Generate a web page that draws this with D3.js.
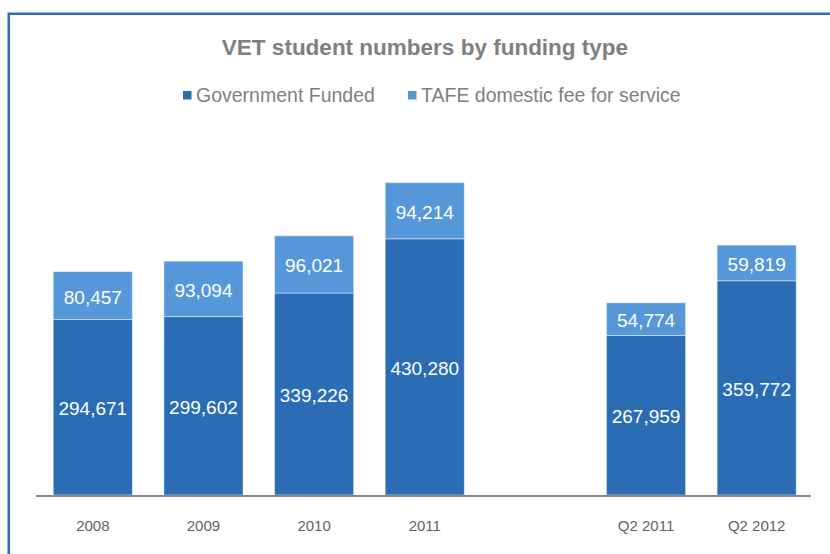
<!DOCTYPE html>
<html>
<head>
<meta charset="utf-8">
<script src="https://cdn.jsdelivr.net/npm/d3@7/dist/d3.min.js"></script>
<style>
  html, body { margin: 0; padding: 0; background: #ffffff; }
  svg { display: block; font-family: "Liberation Sans", Arial, Helvetica, sans-serif; }
</style>
</head>
<body>
<svg id="chart" width="830" height="554"></svg>
<script>
// Categories along the x axis; the blank slot separates annual totals from quarterly figures.
const categories = ["2008", "2009", "2010", "2011", "", "Q2 2011", "Q2 2012"];
const periods = ["2008", "2009", "2010", "2011", "Q2 2011", "Q2 2012"];
const governmentFunded = [294671, 299602, 339226, 430280, 267959, 359772];
const tafeFeeForService = [80457, 93094, 96021, 94214, 54774, 59819];
const seriesNames = ["Government Funded", "TAFE domestic fee for service"];
const seriesColors = ["#2a6db5", "#5597d8"];
const yDomain = [0, 600000];

const svg = d3.select("#chart");
const W = 830, H = 554;

// Outer frame (left and top edges visible, running off the page to the right and bottom)
svg.append("path")
  .attr("d", `M8.75,${H + 5} L8.75,13.75 L${W + 5},13.75`)
  .attr("fill", "none")
  .attr("stroke", "#2a6ebb")
  .attr("stroke-width", 2.5);

// Title
svg.append("text")
  .attr("x", 425)
  .attr("y", 55)
  .attr("text-anchor", "middle")
  .attr("font-size", 22.5)
  .attr("font-weight", "bold")
  .attr("fill", "#7f7f7f")
  .text("VET student numbers by funding type");

// Legend
const legendX = [183, 408];
const legend = svg.append("g");
seriesNames.forEach((name, i) => {
  legend.append("rect")
    .attr("x", legendX[i])
    .attr("y", 91)
    .attr("width", 8.5)
    .attr("height", 8.5)
    .attr("fill", seriesColors[i]);
  legend.append("text")
    .attr("x", legendX[i] + 13)
    .attr("y", 102)
    .attr("font-size", 19.5)
    .attr("fill", "#7f7f7f")
    .text(name);
});

// Scales
const x = d3.scaleBand()
  .domain(categories.map(c => c === "" ? "__gap" : c))
  .range([37.5, 812])
  .paddingInner(0.285)
  .paddingOuter(0.1425);

const y = d3.scaleLinear()
  .domain(yDomain)
  .range([495, 137.7]);

// Stack the two series
const rows = periods.map((p, i) => ({
  period: p,
  gov: governmentFunded[i],
  fee: tafeFeeForService[i]
}));
const stack = d3.stack().keys(["gov", "fee"]);
const layers = stack(rows);

const bars = svg.append("g");
layers.forEach((layer, li) => {
  const g = bars.append("g").attr("fill", seriesColors[li]);
  g.selectAll("rect")
    .data(layer)
    .join("rect")
    .attr("x", d => x(d.data.period))
    .attr("y", d => y(d[1]))
    .attr("width", x.bandwidth())
    .attr("height", d => y(d[0]) - y(d[1]))
    .attr("stroke", "rgba(255,255,255,0.45)")
    .attr("stroke-width", 1);

  // Value labels centred in each segment
  g.selectAll("text")
    .data(layer)
    .join("text")
    .attr("x", d => x(d.data.period) + x.bandwidth() / 2)
    .attr("y", d => (y(d[0]) + y(d[1])) / 2)
    .attr("dy", "0.42em")
    .attr("text-anchor", "middle")
    .attr("font-size", 19)
    .attr("fill", "#ffffff")
    .text(d => d3.format(",")(d[1] - d[0]));
});

// Category axis
const xAxis = d3.axisBottom(x)
  .tickSize(0)
  .tickPadding(0)
  .tickFormat(d => d === "__gap" ? "" : d);

const axisG = svg.append("g")
  .attr("transform", "translate(0,531)")
  .call(xAxis);
axisG.select(".domain").remove();
axisG.selectAll("text")
  .attr("dy", 0)
  .attr("font-size", 15)
  .attr("font-family", "\"Liberation Sans\", Arial, Helvetica, sans-serif")
  .attr("fill", "#636363");

// Baseline
svg.append("line")
  .attr("x1", 36)
  .attr("x2", 811)
  .attr("y1", y(0) + 1)
  .attr("y2", y(0) + 1)
  .attr("stroke", "#868686")
  .attr("stroke-width", 2);
</script>
</body>
</html>
